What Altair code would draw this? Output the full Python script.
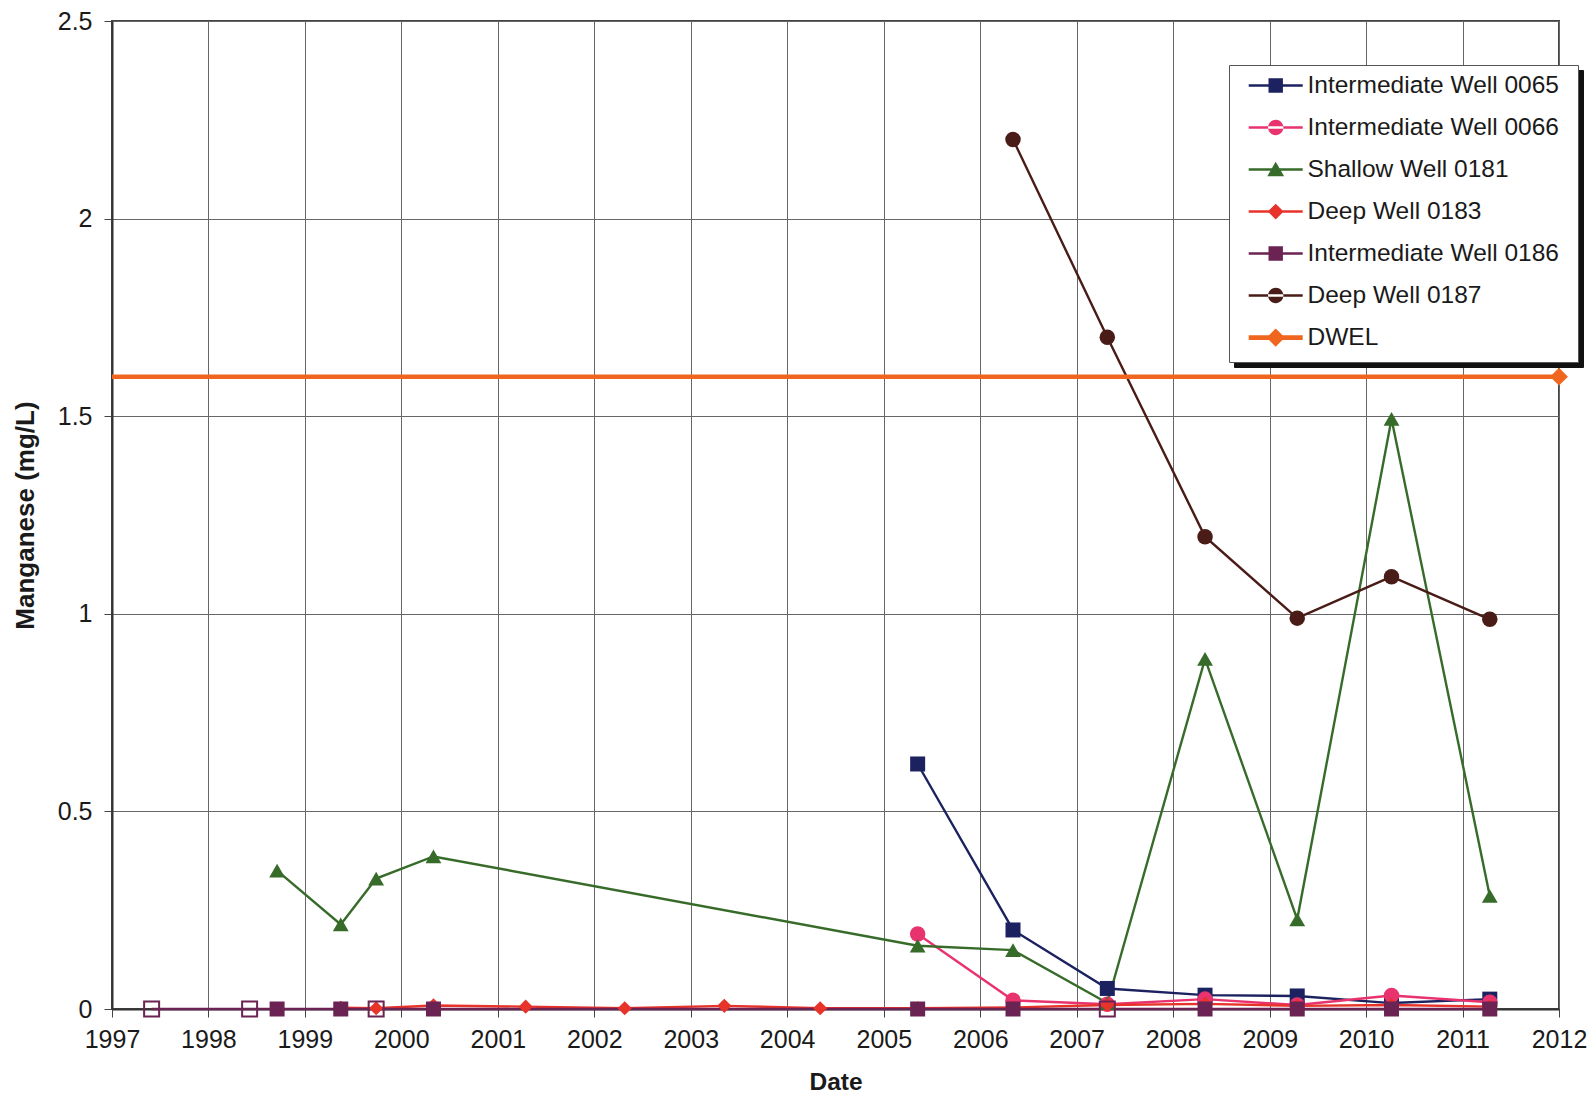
import altair as alt
import pandas as pd

# ---------------- data ----------------
series = ["Intermediate Well 0065", "Intermediate Well 0066", "Shallow Well 0181",
          "Deep Well 0183", "Intermediate Well 0186", "Deep Well 0187", "DWEL"]

early_dates = ["1997-05-31", "1998-06-06", "1998-09-18", "1999-05-17", "1999-09-28", "2000-05-02"]
mid_dates = ["2001-04-16", "2002-04-26", "2003-05-08", "2004-05-05"]
late_dates = ["2005-05-09", "2006-05-05", "2007-04-27", "2008-05-01", "2009-04-15", "2010-04-07", "2011-04-14"]

w0065_dates = late_dates
w0065_values = [0.62, 0.20, 0.052, 0.035, 0.033, 0.015, 0.025]

w0066_dates = late_dates
w0066_values = [0.19, 0.022, 0.012, 0.025, 0.010, 0.034, 0.017]

w0181_dates = early_dates[2:] + late_dates
w0181_values = [0.35, 0.214, 0.33, 0.386, 0.16, 0.149, 0.015, 0.886, 0.227, 1.493, 0.286]

w0183_dates = early_dates[3:] + mid_dates + late_dates
w0183_values = [0.003, 0.002, 0.009, 0.006, 0.002, 0.008, 0.002,
                0.002, 0.004, 0.010, 0.013, 0.008, 0.010, 0.006]

w0186_dates = early_dates + late_dates
w0186_values = [0.0] * 13
w0186_detect = [False, False, True, True, False, True,
                True, True, False, True, True, True, True]

w0187_dates = late_dates[1:]
w0187_values = [2.2, 1.70, 1.195, 0.989, 1.094, 0.986]

dwel_dates = ["1997-01-01", "2012-01-01"]
dwel_values = [1.6, 1.6]
dwel_marker = ["none", "filled"]

year_ticks = list(range(1997, 2013))
y_ticks = [0, 0.5, 1, 1.5, 2, 2.5]

# ---------------- styles ----------------
colors = ["#1c2260", "#e8336e", "#376b2a", "#e8332a", "#6a2352", "#4a1c17", "#f0661f"]
shapes = ["square", "circle", "triangle-up", "diamond", "square", "circle", "diamond"]
sizes = [225, 240, 250, 200, 225, 240, 320]

# legend glyphs: a short line with the marker on it (unit = 12 px)
line_p = "M-0.07,-0.1H4.43V0.1H-0.07Z"
thick_p = "M-0.07,-0.2H4.43V0.2H-0.07Z"
sq_p = "M1.58,-0.6H2.78V0.6H1.58Z"
ci_p = "M1.54,0A0.64,0.64 0 1,0 2.82,0A0.64,0.64 0 1,0 1.54,0Z"
tr_p = "M2.18,-0.66L2.88,0.55H1.48Z"
di_p = "M2.18,-0.66L2.84,0L2.18,0.66L1.52,0Z"
di2_p = "M2.18,-0.76L2.94,0L2.18,0.76L1.42,0Z"
ext_p = "M26.61,-1.27h0.01v0.01ZM26.61,1.26h0.01v0.01Z"   # sets the entry box extent
legend_paths = [p + ext_p for p in
                [line_p + sq_p, line_p + ci_p, line_p + tr_p, line_p + di_p,
                 line_p + sq_p, line_p + ci_p, thick_p + di2_p]]

# ---------------- table ----------------
rows = []
def add(name, dates, values, markers):
    for d, v, m in zip(dates, values, markers):
        rows.append({"series": name, "date": d, "value": v, "marker": m,
                     "msize": sizes[series.index(name)]})

add(series[0], w0065_dates, w0065_values, ["filled"] * len(w0065_dates))
add(series[1], w0066_dates, w0066_values, ["filled"] * len(w0066_dates))
add(series[2], w0181_dates, w0181_values, ["filled"] * len(w0181_dates))
add(series[3], w0183_dates, w0183_values, ["filled"] * len(w0183_dates))
add(series[4], w0186_dates, w0186_values, ["filled" if t else "open" for t in w0186_detect])
add(series[5], w0187_dates, w0187_values, ["filled"] * len(w0187_dates))
add(series[6], dwel_dates, dwel_values, dwel_marker)
df = pd.DataFrame(rows)

FONT = "Liberation Sans"

xscale = alt.Scale(type="utc", domain=[alt.DateTime(year=1997, month=1, date=1, utc=True),
                                       alt.DateTime(year=2012, month=1, date=1, utc=True)])
xaxis = alt.Axis(values=[alt.DateTime(year=y, month=1, date=1, utc=True) for y in year_ticks],
                 format="%Y", formatType="utc", labelPadding=10, labelFlush=False,
                 labelOverlap=False, titleY=80, titleBaseline="alphabetic", titleFontSize=24.5)
yaxis = alt.Axis(values=y_ticks, format="~g", labelPadding=12, titleX=-87, titleY=494,
                 titleAngle=270, titleAlign="center", titleBaseline="middle", titleFontSize=26)

X = alt.X("date:T", scale=xscale, axis=xaxis, title="Date")
Y = alt.Y("value:Q", scale=alt.Scale(domain=[0, 2.5], nice=False, zero=True), axis=yaxis,
          title="Manganese (mg/L)")
C = alt.Color("series:N", scale=alt.Scale(domain=series, range=colors), legend=None)
S = alt.Shape("series:N", scale=alt.Scale(domain=series, range=shapes), legend=None)
Z = alt.Size("msize:Q", scale=None)

base = alt.Chart(df)

lines = base.transform_filter(alt.datum.series != "DWEL").mark_line(strokeWidth=2.4).encode(X, Y, C)
dwel = base.transform_filter(alt.datum.series == "DWEL").mark_line(strokeWidth=4.5).encode(X, Y, C)
filled_pts = base.transform_filter(alt.datum.marker == "filled").mark_point(
    filled=True, opacity=1).encode(X, Y, C, S, Z)
open_pts = base.transform_filter(alt.datum.marker == "open").mark_point(
    filled=False, opacity=1, strokeWidth=2).encode(X, Y, C, S, Z)

LX, LY = 1117, 44
common = dict(title=None, orient="none", padding=8.3, rowPadding=11, symbolSize=576,
              labelFontSize=24.5, labelFont=FONT, labelOffset=45.7, labelLimit=600,
              symbolStrokeWidth=0, symbolOpacity=1)

# drop shadow of the legend box: same entries, no labels
shadow_keys = ["s%d" % i for i in range(len(series))]
shadow_leg = alt.Legend(legendX=LX + 5, legendY=LY + 5, labelColor="#111",
                        strokeColor="#111", fillColor="#111", labelExpr="''", **common)
shadow_layer = alt.Chart(pd.DataFrame({"shadow": shadow_keys})).transform_filter("false").mark_point(
    filled=True, opacity=1).encode(
    color=alt.Color("shadow:N", scale=alt.Scale(domain=shadow_keys, range=["#111"] * 7),
                    legend=shadow_leg),
    shape=alt.Shape("shadow:N", scale=alt.Scale(domain=shadow_keys, range=legend_paths),
                    legend=shadow_leg),
)

leg = alt.Legend(legendX=LX, legendY=LY, labelColor="#1a1a1a", strokeColor="#555",
                 fillColor="white", **common)
legend_layer = base.transform_filter("false").mark_point(filled=True, opacity=1).encode(
    color=alt.Color("series:N", scale=alt.Scale(domain=series, range=colors), legend=leg),
    shape=alt.Shape("series:N", scale=alt.Scale(domain=series, range=legend_paths), legend=leg),
)

chart = alt.layer(lines, dwel, filled_pts, open_pts, shadow_layer, legend_layer).resolve_scale(
    color="independent", shape="independent"
).properties(
    width=1447, height=988,
    autosize=alt.AutoSizeParams(type="none"),
    padding={"left": 104, "top": 13, "right": 29, "bottom": 85},
    background="white",
).configure_view(
    stroke="#444", strokeWidth=2
).configure_axis(
    gridColor="#666666", gridWidth=1, domainColor="#333", domainWidth=2,
    tickColor="#444", tickSize=8, labelFont=FONT, labelFontSize=25, labelColor="#1a1a1a",
    titleFont=FONT, titleColor="#1a1a1a", titleFontWeight="bold"
)

chart.save("out.html", embed_options={"renderer": "svg", "actions": False})
